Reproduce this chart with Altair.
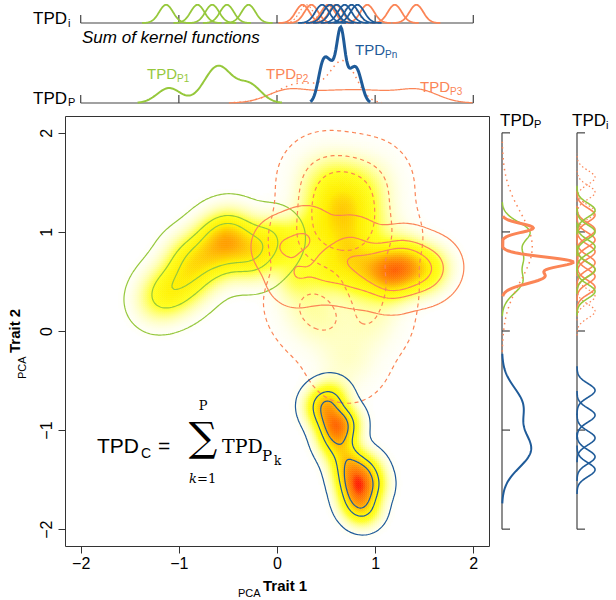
import numpy as np
import pandas as pd
import altair as alt

# ---------------------------------------------------------------- axes
X_DOMAIN = [-2.16, 2.16]
Y_DOMAIN = [-2.17, 2.17]
TICKS = [-2, -1, 0, 1, 2]

SANS = "Liberation Sans"
SERIF = "DejaVu Serif"
GREEN = "#96c83c"
SALMON = "#fb8556"
BLUE = "#1f5b99"

# ---------------------------------------------------------------- individuals of each population (trait space)
p1_x = [-1.22, -1.12, -1.02, -0.95, -0.85, -0.78, -0.70, -0.62, -0.55, -0.50, -0.45, -0.40, -0.33, -0.25, -0.15, -0.05, -0.60, -0.90]
p1_y = [0.30, 0.45, 0.38, 0.60, 0.52, 0.72, 0.82, 0.92, 0.98, 0.88, 1.02, 0.90, 0.80, 0.72, 0.85, 0.95, 0.70, 0.75]

p2_x = [0.60, 0.72, 0.65, 0.78, 0.58, 0.70, 0.62, 0.80, 0.52, 0.68, 0.75, 0.60, 0.70,
        0.35, 0.30, 0.45, 0.95, 0.72, 1.00, 1.05, 0.82, 0.45, 0.95]
p2_y = [1.35, 1.25, 1.10, 1.05, 1.00, 0.95, 1.50, 1.35, 1.20, 1.20, 1.15, 1.25, 1.40,
        0.90, 0.30, 0.10, 0.10, -0.30, 0.45, 0.95, 0.60, 1.55, 1.50]

p3_x = [0.05, 0.20, 0.30, 0.50, 0.65, 0.80, 0.92, 1.02, 1.10, 1.18, 1.25, 1.32, 1.40, 1.48, 1.58, 1.30, 1.15, 0.75, 1.20]
p3_y = [0.85, 0.55, 0.95, 0.60, 0.72, 0.55, 0.70, 0.60, 0.66, 0.58, 0.64, 0.60, 0.66, 0.58, 0.65, 0.75, 0.50, 0.85, 0.62]

pn_x = [0.45, 0.52, 0.58, 0.63, 0.68, 0.60, 0.70, 0.74, 0.78, 0.80, 0.84, 0.90, 0.95, 0.88, 0.82, 0.55]
pn_y = [-0.75, -0.85, -0.95, -1.00, -0.92, -1.12, -1.25, -1.38, -1.48, -1.56, -1.62, -1.40, -1.55, -1.80, -1.72, -0.68]

POINTS = {"P1": (p1_x, p1_y), "P2": (p2_x, p2_y), "P3": (p3_x, p3_y), "Pn": (pn_x, pn_y)}
# kernel bandwidths (trait 1, trait 2)
BANDWIDTH = {"P1": (0.15, 0.15), "P2": (0.2, 0.2), "P3": (0.14, 0.14), "Pn": (0.11, 0.11)}
CONTOUR_MASS = [0.99, 0.75, 0.45]

# ---------------------------------------------------------------- population TPDs along each trait (centre, sd, weight)
top_p1 = ([-1.10, -0.60, -0.28], [0.12, 0.14, 0.12], [15, 37, 18])
top_p2 = ([0.25, 0.68], [0.25, 0.13], [20, 38])
top_p3 = ([0.10, 0.55, 1.00, 1.45], [0.20, 0.25, 0.25, 0.20], [12, 10, 10, 12])
top_pn = ([0.47, 0.56, 0.65, 0.74, 0.82], [0.05, 0.05, 0.04, 0.05, 0.05], [38, 30, 66, 22, 28])

right_p1 = ([1.00, 0.75, 0.50], [0.10, 0.10, 0.12], [27, 18, 20])
right_p2 = ([0.85], [0.35], [30])
right_p3 = ([1.04, 0.70, 0.55], [0.045, 0.05, 0.07], [31, 66, 42])
right_pn = ([-0.75, -1.20], [0.18, 0.18], [20, 28])

# ---------------------------------------------------------------- single-individual kernels in the strips
top_kern_p1 = [-1.13, -0.81, -0.66, -0.51, -0.29]
top_kern_p3 = [0.26, 0.35, 0.52, 0.60, 0.92, 1.20, 1.42]
top_kern_p2 = [0.30, 0.55, 0.75]
top_kern_pn = [0.46, 0.54, 0.61, 0.69, 0.76, 0.82]

right_kern_p1 = [1.22, 1.00, 0.85, 0.62, 0.40]
right_kern_p3 = [1.17, 1.02, 0.92, 0.80, 0.69, 0.62, 0.55, 0.44]
right_kern_p2 = [1.55, 1.40, 1.20, 0.35, 0.20]
right_kern_pn = [-0.60, -0.85, -1.08, -1.27, -1.40]
KERNEL_SD = 0.07

# ---------------------------------------------------------------- density grid
STEP = 0.02
gx = np.arange(-2.15, 2.16, STEP)
gy = np.arange(-2.16, 2.17, STEP)
GX, GY = np.meshgrid(gx, gy)


def pop_density(xs, ys, h):
    hx, hy = h
    z = np.zeros_like(GX)
    for a, b in zip(xs, ys):
        z += np.exp(-0.5 * (((GX - a) / hx) ** 2 + ((GY - b) / hy) ** 2))
    return z / z.sum()


dens = {p: pop_density(*POINTS[p], BANDWIDTH[p]) for p in POINTS}
tpd_c = sum(dens.values())
tpd_c = tpd_c / tpd_c.max()

keep = tpd_c > 0.004
heat = pd.DataFrame({
    "x0": np.round(GX[keep] - STEP / 2, 3),
    "x1": np.round(GX[keep] + STEP / 2, 3),
    "y0": np.round(GY[keep] - STEP / 2, 3),
    "y1": np.round(GY[keep] + STEP / 2, 3),
    "d": np.round(tpd_c[keep], 3),
})


# ---------------------------------------------------------------- contour lines (marching squares)
def mass_level(z, q):
    v = np.sort(z.ravel())[::-1]
    c = np.cumsum(v)
    return v[min(np.searchsorted(c, q), len(v) - 1)]


def contour_paths(z, level):
    above = z > level

    def pt(edge):
        kind, j, i = edge
        if kind == "h":
            a, b = z[j, i], z[j, i + 1]
            t = (level - a) / (b - a)
            return gx[i] + t * STEP, gy[j]
        a, b = z[j, i], z[j + 1, i]
        t = (level - a) / (b - a)
        return gx[i], gy[j] + t * STEP

    c0 = above[:-1, :-1]
    c1 = above[:-1, 1:]
    c2 = above[1:, 1:]
    c3 = above[1:, :-1]
    mixed = ~((c0 == c1) & (c1 == c2) & (c2 == c3))
    segs = []
    for j, i in zip(*np.nonzero(mixed)):
        j, i = int(j), int(i)
        b0, b1, b2, b3 = above[j, i], above[j, i + 1], above[j + 1, i + 1], above[j + 1, i]
        bottom, right, top, left = ("h", j, i), ("v", j, i + 1), ("h", j + 1, i), ("v", j, i)
        cross = []
        if b0 != b1:
            cross.append(bottom)
        if b1 != b2:
            cross.append(right)
        if b2 != b3:
            cross.append(top)
        if b3 != b0:
            cross.append(left)
        if len(cross) == 2:
            segs.append((cross[0], cross[1]))
        else:
            centre = (z[j, i] + z[j, i + 1] + z[j + 1, i + 1] + z[j + 1, i]) / 4 > level
            if centre == b0:
                segs += [(bottom, right), (top, left)]
            else:
                segs += [(left, bottom), (right, top)]

    adj = {}
    for k, (a, b) in enumerate(segs):
        adj.setdefault(a, []).append(k)
        adj.setdefault(b, []).append(k)
    used = [False] * len(segs)

    def walk(start):
        path, cur = [start], start
        while True:
            nxt = next((k for k in adj[cur] if not used[k]), None)
            if nxt is None:
                break
            used[nxt] = True
            a, b = segs[nxt]
            cur = b if a == cur else a
            path.append(cur)
        return path

    paths = []
    for e, ks in adj.items():
        if len(ks) == 1 and not used[ks[0]]:
            paths.append(walk(e))
    for k in range(len(segs)):
        if not used[k]:
            paths.append(walk(segs[k][0]))
    return [[pt(e) for e in p] for p in paths]


contour_rows = []
for p, z in dens.items():
    for li, q in enumerate(CONTOUR_MASS):
        for pi, path in enumerate(contour_paths(z, mass_level(z, q))):
            for idx, (x, y) in enumerate(path):
                contour_rows.append((p, f"{p}-{li}-{pi}", idx, round(float(x), 4), round(float(y), 4)))
contours = pd.DataFrame(contour_rows, columns=["pop", "path", "idx", "x", "y"])


# ---------------------------------------------------------------- profiles and kernels in the strips
def mixture_rows(name, comps, lo, hi):
    mus, sds, ws = comps
    v = np.arange(lo, hi, 0.01)
    m = sum(w * np.exp(-0.5 * ((v - mu) / sd) ** 2) for mu, sd, w in zip(mus, sds, ws))
    ok = m > 0.01 * m.max()
    return [(name, round(float(a), 3), round(float(b), 4)) for a, b in zip(v[ok], m[ok])]


top_prof = pd.DataFrame(
    mixture_rows("P1", top_p1, -2, 2) + mixture_rows("P2", top_p2, -2, 2)
    + mixture_rows("P3", top_p3, -2, 2) + mixture_rows("Pn", top_pn, -2, 2),
    columns=["pop", "x", "m"])
right_prof = pd.DataFrame(
    mixture_rows("P1", right_p1, -2, 2) + mixture_rows("P2", right_p2, -2, 2)
    + mixture_rows("P3", right_p3, -2, 2) + mixture_rows("Pn", right_pn, -2, 2),
    columns=["pop", "y", "m"])
TOP_MAX = float(top_prof["m"].max())
RIGHT_MAX = float(right_prof["m"].max())


def kernel_rows(centres, name):
    off = np.linspace(-3.5 * KERNEL_SD, 3.5 * KERNEL_SD, 57)
    rows = []
    for k, c in enumerate(centres):
        for o in off:
            rows.append((name, f"{name}{k}", round(c + o, 4), round(float(np.exp(-0.5 * (o / KERNEL_SD) ** 2)), 4)))
    return rows


top_kern = pd.DataFrame(
    kernel_rows(top_kern_p2, "P2") + kernel_rows(top_kern_p3, "P3") + kernel_rows(top_kern_p1, "P1") + kernel_rows(top_kern_pn, "Pn"),
    columns=["pop", "k", "v", "h"])
right_kern = pd.DataFrame(
    kernel_rows(right_kern_p2, "P2") + kernel_rows(right_kern_p3, "P3") + kernel_rows(right_kern_p1, "P1") + kernel_rows(right_kern_pn, "Pn"),
    columns=["pop", "k", "v", "h"])

ticks_df = pd.DataFrame({"t": TICKS})
base_df = pd.DataFrame({"a": [TICKS[0]], "b": [TICKS[-1]]})

# ---------------------------------------------------------------- layout (pixels, relative to the main plot area)
M_W, M_H = 424, 430
PAD = {"left": 65, "top": 116, "right": 127, "bottom": 54}
A_BASE, A_TOP = -93, -113        # strip of individual kernels above
B_BASE, B_TOP = -13, -89         # strip of population profiles above
RP_BASE, RP_END = 437, 512       # population profiles on the right
RI_BASE, RI_END = 512, 540       # individual kernels on the right
TICK_LEN = 8

XS = alt.Scale(domain=X_DOMAIN, nice=False, zero=False)
YS = alt.Scale(domain=Y_DOMAIN, nice=False, zero=False)
AXIS_COLOR = "#444444"


def label(text, x, y, size, color="black", font=SANS, style="normal", weight="normal", angle=0, align="left"):
    return alt.Chart(pd.DataFrame({"t": [text]})).mark_text(
        align=align, baseline="alphabetic", font=font, fontSize=size, fontStyle=style,
        fontWeight=weight, color=color, angle=angle,
    ).encode(x=alt.value(x), y=alt.value(y), text="t:N")


def line_props(color, width, dash):
    mk = dict(color=color, strokeWidth=width)
    if dash:
        mk["strokeDash"] = dash
    return mk


# ---------------------------------------------------------------- top strips
ka_scale = alt.Scale(domain=[0, 1.1], range=[A_BASE, A_TOP])
pb_scale = alt.Scale(domain=[0, TOP_MAX], range=[B_BASE, B_TOP])


def top_kernel_layer(pop, color, width, dash=None):
    return alt.Chart(top_kern).transform_filter(alt.datum.pop == pop).mark_line(**line_props(color, width, dash)).encode(
        x=alt.X("v:Q", scale=XS, axis=None), y=alt.Y("h:Q", scale=ka_scale, axis=None),
        detail="k:N", order="v:Q")


def top_prof_layer(pop, color, width, dash=None):
    return alt.Chart(top_prof).transform_filter(alt.datum.pop == pop).mark_line(**line_props(color, width, dash)).encode(
        x=alt.X("x:Q", scale=XS, axis=None), y=alt.Y("m:Q", scale=pb_scale, axis=None), order="x:Q")


def top_axis(base):
    line = alt.Chart(base_df).mark_rule(color=AXIS_COLOR, strokeWidth=1.2).encode(
        x=alt.X("a:Q", scale=XS, axis=None), x2="b:Q", y=alt.value(base))
    ticks = alt.Chart(ticks_df).mark_rule(color=AXIS_COLOR, strokeWidth=1.2).encode(
        x=alt.X("t:Q", scale=XS, axis=None), y=alt.value(base), y2=alt.value(base - TICK_LEN))
    return [line, ticks]


top_layers = [
    *top_axis(A_BASE),
    top_kernel_layer("P2", SALMON, 1.2, [1.5, 2.5]),
    top_kernel_layer("P3", SALMON, 1.8),
    top_kernel_layer("P1", GREEN, 1.8),
    top_kernel_layer("Pn", BLUE, 1.8),
    label("TPD", -32, -92, 17),
    label("i", 3, -89, 11),
    *top_axis(B_BASE),
    top_prof_layer("P2", SALMON, 1.5, [1.5, 4]),
    top_prof_layer("P3", SALMON, 1.2),
    top_prof_layer("P1", GREEN, 2),
    top_prof_layer("Pn", BLUE, 3),
    label("Sum of kernel functions", 17, -73, 17, style="italic"),
    label("TPD", -32, -12, 17),
    label("P", 3, -10, 11),
    label("TPD", 82, -37, 15, GREEN),
    label("P1", 112, -34, 10, GREEN),
    label("TPD", 201, -37, 15, SALMON),
    label("P2", 231, -34, 10, SALMON),
    label("TPD", 290, -61, 15, BLUE),
    label("Pn", 320, -58, 10, BLUE),
    label("TPD", 355, -24, 15, SALMON),
    label("P3", 385, -21, 10, SALMON),
]

# ---------------------------------------------------------------- main panel
HEAT = alt.Scale(
    domain=[0, 0.02, 0.08, 0.2, 0.4, 0.65, 0.88, 1.0],
    range=["#ffffff", "#fffff0", "#ffffb0", "#ffff20", "#ffee00", "#ffa000", "#ff6a00", "#ff2000"],
    interpolate="rgb",
)
AX_X = alt.Axis(values=TICKS, title=None, grid=False, domain=False, tickSize=7, tickColor="#333333",
                labelFont=SANS, labelFontSize=16, labelColor="black", labelPadding=2)
AX_Y = alt.Axis(values=TICKS, title=None, grid=False, domain=False, tickSize=7, tickColor="#333333",
                labelFont=SANS, labelFontSize=16, labelColor="black", labelPadding=4,
                labelAngle=-90, labelAlign="center", labelBaseline="bottom")

heat_layer = alt.Chart(heat).mark_rect(strokeWidth=0.5).encode(
    x=alt.X("x0:Q", scale=XS, axis=AX_X), x2="x1:Q",
    y=alt.Y("y0:Q", scale=YS, axis=AX_Y), y2="y1:Q",
    fill=alt.Fill("d:Q", scale=HEAT, legend=None),
    stroke=alt.Stroke("d:Q", scale=HEAT, legend=None),
)


def contour_layer(pop, color, dash=None):
    return alt.Chart(contours).transform_filter(alt.datum.pop == pop).mark_line(**line_props(color, 1.2, dash)).encode(
        x=alt.X("x:Q", scale=XS, axis=None), y=alt.Y("y:Q", scale=YS, axis=None),
        detail="path:N", order="idx:Q")


main_layers = [
    heat_layer,
    contour_layer("P1", GREEN),
    contour_layer("P3", SALMON),
    contour_layer("P2", SALMON, [4, 3.5]),
    contour_layer("Pn", BLUE),
    # community TPD as the sum of population TPDs
    label("TPD", 32, 337, 21),
    label("C", 76, 342, 14),
    label("=", 93, 337, 21),
    label("\u2211", 138, 335, 40, font=SERIF, align="center"),
    label("P", 138, 294, 13, font=SERIF, align="center"),
    label("k", 124, 367, 13, font=SERIF, style="italic"),
    label("=1", 132, 367, 13, font=SERIF),
    label("TPD", 157, 337, 19, font=SERIF),
    label("P", 197, 345, 15, font=SERIF),
    label("k", 209, 349, 12, font=SERIF),
    # axis titles
    label("PCA", 173, 481, 11),
    label("Trait 1", 198, 475, 15, weight="bold"),
    label("PCA", -39, 263, 11, angle=270),
    label("Trait 2", -45, 237, 15, weight="bold", angle=270),
]

# ---------------------------------------------------------------- right strips
rp_scale = alt.Scale(domain=[0, RIGHT_MAX * 75 / 71], range=[RP_BASE, RP_END])
ri_scale = alt.Scale(domain=[0, 1.55], range=[RI_BASE, RI_END])


def right_axis(base):
    line = alt.Chart(base_df).mark_rule(color=AXIS_COLOR, strokeWidth=1.2).encode(
        y=alt.Y("a:Q", scale=YS, axis=None), y2="b:Q", x=alt.value(base))
    ticks = alt.Chart(ticks_df).mark_rule(color=AXIS_COLOR, strokeWidth=1.2).encode(
        y=alt.Y("t:Q", scale=YS, axis=None), x=alt.value(base), x2=alt.value(base + TICK_LEN))
    return [line, ticks]


def right_prof_layer(pop, color, width, dash=None):
    return alt.Chart(right_prof).transform_filter(alt.datum.pop == pop).mark_line(**line_props(color, width, dash)).encode(
        y=alt.Y("y:Q", scale=YS, axis=None), x=alt.X("m:Q", scale=rp_scale, axis=None), order="y:Q")


def right_kernel_layer(pop, color, width, dash=None):
    return alt.Chart(right_kern).transform_filter(alt.datum.pop == pop).mark_line(**line_props(color, width, dash)).encode(
        y=alt.Y("v:Q", scale=YS, axis=None), x=alt.X("h:Q", scale=ri_scale, axis=None),
        detail="k:N", order="v:Q")


right_layers = [
    *right_axis(RP_BASE),
    right_prof_layer("P1", GREEN, 1.5),
    right_prof_layer("P2", SALMON, 1.5, [1.5, 4]),
    right_prof_layer("Pn", BLUE, 2),
    right_prof_layer("P3", SALMON, 3),
    label("TPD", RP_BASE - 2, 10, 17),
    label("P", RP_BASE + 32, 12, 11),
    *right_axis(RI_BASE),
    right_kernel_layer("P2", SALMON, 1.2, [1.5, 2.5]),
    right_kernel_layer("P3", SALMON, 1.6),
    right_kernel_layer("P1", GREEN, 1.6),
    right_kernel_layer("Pn", BLUE, 1.6),
    label("TPD", RI_BASE - 5, 10, 17),
    label("i", RI_BASE + 29, 13, 11),
]

chart = alt.layer(*main_layers, *top_layers, *right_layers).resolve_scale(
    x="independent", y="independent"
).properties(
    width=M_W, height=M_H, padding=PAD, autosize=alt.AutoSizeParams(type="none"),
    view=alt.ViewBackground(stroke="#333333", strokeWidth=1),
).configure(font=SANS)

chart.save("out.html", embed_options={"renderer": "svg", "actions": False})
